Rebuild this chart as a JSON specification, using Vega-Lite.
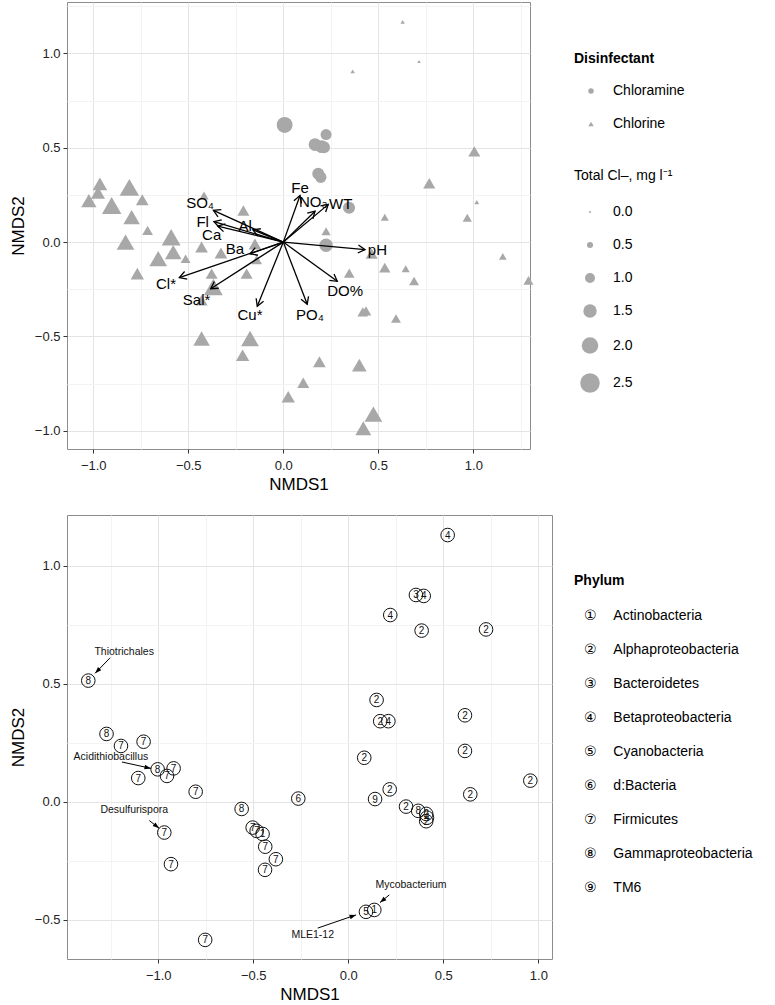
{
  "$schema": "https://vega.github.io/schema/vega-lite/v6.json",
  "padding": {"left": 8, "top": 1, "right": 0, "bottom": 0},
  "background": "white",
  "spacing": 21,
  "config": {
    "font": "Liberation Sans",
    "view": {"stroke": "#8C8C8C", "strokeWidth": 1},
    "axis": {
      "domain": false,
      "labelFontSize": 13,
      "labelColor": "#222",
      "labelFont": "Liberation Sans",
      "titleFont": "Liberation Sans",
      "titleFontSize": 17,
      "titleFontWeight": "normal",
      "titleColor": "#000",
      "tickColor": "#333",
      "tickSize": 4,
      "labelPadding": 3,
      "labelExpr": "abs(datum.value % 0.5) > 0.001 ? '' : format(datum.value, '.1f')",
      "gridColor": {"condition": {"test": "abs(datum.value % 0.5) > 0.001", "value": "#F3F3F3"}, "value": "#E4E4E4"},
      "tickOpacity": {"condition": {"test": "abs(datum.value % 0.5) > 0.001", "value": 0}, "value": 1}
    },
    "axisX": {"labelPadding": 6, "titlePadding": 4},
    "axisY": {"titlePadding": 7},
    "legend": {
      "labelFont": "Liberation Sans",
      "titleFont": "Liberation Sans",
      "labelFontSize": 14,
      "titleFontSize": 14,
      "labelColor": "#000",
      "titleColor": "#000",
      "labelLimit": 300,
      "padding": 0
    }
  },
  "vconcat": [
    {
      "width": 463,
      "height": 447,
      "encoding": {
        "x": {"field": "x", "type": "quantitative", "title": "NMDS1", "scale": {"domain": [-1.138, 1.298], "nice": false, "zero": false}, "axis": {"values": [-1, -0.75, -0.5, -0.25, 0, 0.25, 0.5, 0.75, 1, 1.25]}},
        "y": {"field": "y", "type": "quantitative", "title": "NMDS2", "scale": {"domain": [-1.097, 1.273], "nice": false, "zero": false}, "axis": {"values": [-1, -0.75, -0.5, -0.25, 0, 0.25, 0.5, 0.75, 1, 1.25]}}
      },
      "layer": [
        {
          "data": {"values": [
            {"x": -0.965, "y": 0.309, "disinfectant": "Chlorine", "cl": 1.7},
            {"x": -0.975, "y": 0.262, "disinfectant": "Chlorine", "cl": 1.6},
            {"x": -0.81, "y": 0.29, "disinfectant": "Chlorine", "cl": 2.5},
            {"x": -1.023, "y": 0.22, "disinfectant": "Chlorine", "cl": 1.8},
            {"x": -0.903, "y": 0.194, "disinfectant": "Chlorine", "cl": 2.5},
            {"x": -0.742, "y": 0.224, "disinfectant": "Chlorine", "cl": 1.4},
            {"x": -0.798, "y": 0.132, "disinfectant": "Chlorine", "cl": 2.0},
            {"x": -0.714, "y": 0.062, "disinfectant": "Chlorine", "cl": 1.1},
            {"x": -0.83, "y": 0.0, "disinfectant": "Chlorine", "cl": 2.2},
            {"x": -0.59, "y": 0.026, "disinfectant": "Chlorine", "cl": 2.4},
            {"x": -0.579, "y": -0.053, "disinfectant": "Chlorine", "cl": 2.0},
            {"x": -0.658, "y": -0.088, "disinfectant": "Chlorine", "cl": 2.2},
            {"x": -0.514, "y": -0.088, "disinfectant": "Chlorine", "cl": 1.0},
            {"x": -0.43, "y": -0.026, "disinfectant": "Chlorine", "cl": 1.4},
            {"x": -0.417, "y": 0.247, "disinfectant": "Chlorine", "cl": 0.9},
            {"x": -0.328, "y": -0.058, "disinfectant": "Chlorine", "cl": 1.4},
            {"x": -0.768, "y": -0.167, "disinfectant": "Chlorine", "cl": 1.5},
            {"x": -0.377, "y": -0.167, "disinfectant": "Chlorine", "cl": 1.3},
            {"x": -0.368, "y": -0.238, "disinfectant": "Chlorine", "cl": 2.4},
            {"x": -0.21, "y": 0.168, "disinfectant": "Chlorine", "cl": 1.3},
            {"x": -0.149, "y": -0.01, "disinfectant": "Chlorine", "cl": 1.4},
            {"x": -0.193, "y": -0.167, "disinfectant": "Chlorine", "cl": 1.3},
            {"x": -0.14, "y": -0.093, "disinfectant": "Chlorine", "cl": 1.1},
            {"x": -0.43, "y": -0.308, "disinfectant": "Chlorine", "cl": 1.3},
            {"x": -0.43, "y": -0.511, "disinfectant": "Chlorine", "cl": 2.0},
            {"x": -0.175, "y": -0.511, "disinfectant": "Chlorine", "cl": 2.2},
            {"x": -0.214, "y": -0.6, "disinfectant": "Chlorine", "cl": 1.5},
            {"x": 0.026, "y": -0.82, "disinfectant": "Chlorine", "cl": 1.5},
            {"x": 0.105, "y": -0.746, "disinfectant": "Chlorine", "cl": 1.3},
            {"x": 0.19, "y": -0.635, "disinfectant": "Chlorine", "cl": 1.4},
            {"x": 0.4, "y": -0.652, "disinfectant": "Chlorine", "cl": 1.7},
            {"x": 0.474, "y": -0.912, "disinfectant": "Chlorine", "cl": 2.2},
            {"x": 0.421, "y": -0.987, "disinfectant": "Chlorine", "cl": 1.9},
            {"x": 0.225, "y": 0.058, "disinfectant": "Chlorine", "cl": 0.9},
            {"x": 0.465, "y": -0.061, "disinfectant": "Chlorine", "cl": 1.3},
            {"x": 0.534, "y": -0.135, "disinfectant": "Chlorine", "cl": 1.2},
            {"x": 0.644, "y": -0.141, "disinfectant": "Chlorine", "cl": 0.75},
            {"x": 0.688, "y": -0.206, "disinfectant": "Chlorine", "cl": 1.0},
            {"x": 0.347, "y": -0.164, "disinfectant": "Chlorine", "cl": 1.1},
            {"x": 0.418, "y": -0.37, "disinfectant": "Chlorine", "cl": 1.1},
            {"x": 0.435, "y": -0.365, "disinfectant": "Chlorine", "cl": 1.1},
            {"x": 0.593, "y": -0.405, "disinfectant": "Chlorine", "cl": 1.0},
            {"x": 1.155, "y": -0.076, "disinfectant": "Chlorine", "cl": 0.7},
            {"x": 1.29, "y": -0.203, "disinfectant": "Chlorine", "cl": 1.0},
            {"x": 0.534, "y": 0.132, "disinfectant": "Chlorine", "cl": 0.75},
            {"x": 0.968, "y": 0.129, "disinfectant": "Chlorine", "cl": 0.9},
            {"x": 1.018, "y": 0.212, "disinfectant": "Chlorine", "cl": 0.35},
            {"x": 0.768, "y": 0.312, "disinfectant": "Chlorine", "cl": 1.3},
            {"x": 1.005, "y": 0.481, "disinfectant": "Chlorine", "cl": 1.3},
            {"x": 0.628, "y": 1.168, "disinfectant": "Chlorine", "cl": 0.3},
            {"x": 0.714, "y": 0.958, "disinfectant": "Chlorine", "cl": 0.2},
            {"x": 0.365, "y": 0.905, "disinfectant": "Chlorine", "cl": 0.3},
            {"x": 0.007, "y": 0.621, "disinfectant": "Chloramine", "cl": 1.9},
            {"x": 0.225, "y": 0.57, "disinfectant": "Chloramine", "cl": 1.15},
            {"x": 0.167, "y": 0.517, "disinfectant": "Chloramine", "cl": 1.4},
            {"x": 0.202, "y": 0.506, "disinfectant": "Chloramine", "cl": 1.4},
            {"x": 0.214, "y": 0.503, "disinfectant": "Chloramine", "cl": 1.3},
            {"x": 0.184, "y": 0.362, "disinfectant": "Chloramine", "cl": 1.3},
            {"x": 0.197, "y": 0.344, "disinfectant": "Chloramine", "cl": 1.2},
            {"x": 0.346, "y": 0.182, "disinfectant": "Chloramine", "cl": 1.3},
            {"x": 0.225, "y": -0.017, "disinfectant": "Chloramine", "cl": 1.5}
          ]},
          "mark": {"type": "point", "filled": true, "color": "#A8A8A8", "opacity": 1, "strokeWidth": 0},
          "encoding": {
            "shape": {"field": "disinfectant", "type": "nominal", "title": "Disinfectant",
              "scale": {"domain": ["Chloramine", "Chlorine"], "range": ["circle", "triangle-up"]},
              "legend": {"orient": "none", "legendX": 507, "legendY": 50, "symbolSize": 30, "symbolFillColor": "#A8A8A8", "symbolStrokeWidth": 0, "symbolOffset": 10, "labelOffset": 15, "titlePadding": 18, "rowPadding": 19, "titleFontWeight": "bold"}},
            "size": {"field": "cl", "type": "quantitative", "title": "Total Cl–, mg l⁻¹",
              "scale": {"type": "pow", "exponent": 1.5, "domain": [0, 2.5], "range": [4, 380]},
              "legend": {"orient": "none", "legendX": 507, "legendY": 167, "values": [0, 0.5, 1, 1.5, 2, 2.5], "format": ".1f", "symbolFillColor": "#A8A8A8", "symbolStrokeWidth": 0, "symbolType": "circle", "symbolOffset": 6, "labelOffset": 13, "titlePadding": 22, "rowPadding": 19, "titleFontWeight": "normal"}}
          }
        },
        {
          "data": {"name": "vectors", "values": [
            {"name": "SO₄", "x": -0.368, "y": 0.168},
            {"name": "Fl", "x": -0.365, "y": 0.108},
            {"name": "Ca", "x": -0.345, "y": 0.085},
            {"name": "Al", "x": -0.16, "y": 0.065},
            {"name": "Ba", "x": -0.175, "y": -0.062},
            {"name": "Cl*", "x": -0.547, "y": -0.188},
            {"name": "Sal*", "x": -0.382, "y": -0.247},
            {"name": "Cu*", "x": -0.137, "y": -0.34},
            {"name": "PO₄", "x": 0.126, "y": -0.33},
            {"name": "DO%", "x": 0.284, "y": -0.208},
            {"name": "pH", "x": 0.43, "y": -0.04},
            {"name": "Fe", "x": 0.088, "y": 0.247},
            {"name": "NO₃", "x": 0.167, "y": 0.164},
            {"name": "WT", "x": 0.237, "y": 0.2}
          ]},
          "mark": {"type": "rule", "color": "#000", "strokeWidth": 1.3},
          "encoding": {
            "x": {"datum": 0, "type": "quantitative", "title": "NMDS1"},
            "y": {"datum": 0, "type": "quantitative", "title": "NMDS2"},
            "x2": {"field": "x"},
            "y2": {"field": "y"}
          }
        },
        {
          "data": {"name": "vectors"},
          "transform": [{"calculate": "atan2(datum.x, datum.y) * 180 / PI", "as": "angle"}],
          "mark": {"type": "point", "shape": "M-0.5,0.87L0,0L0.5,0.87", "filled": false, "stroke": "#000", "strokeWidth": 1.3, "size": 256, "opacity": 1},
          "encoding": {
            "angle": {"field": "angle", "type": "quantitative", "scale": null}
          }
        },
        {
          "data": {"values": [
            {"name": "SO₄", "x": -0.438, "y": 0.206},
            {"name": "Fl", "x": -0.424, "y": 0.106},
            {"name": "Ca", "x": -0.377, "y": 0.035},
            {"name": "Al", "x": -0.2, "y": 0.088},
            {"name": "Ba", "x": -0.254, "y": -0.035},
            {"name": "Cl*", "x": -0.617, "y": -0.224},
            {"name": "Sal*", "x": -0.456, "y": -0.305},
            {"name": "Cu*", "x": -0.175, "y": -0.388},
            {"name": "PO₄", "x": 0.14, "y": -0.388},
            {"name": "DO%", "x": 0.325, "y": -0.259},
            {"name": "pH", "x": 0.495, "y": -0.04},
            {"name": "Fe", "x": 0.088, "y": 0.288},
            {"name": "NO₃", "x": 0.158, "y": 0.212},
            {"name": "WT", "x": 0.302, "y": 0.203}
          ]},
          "mark": {"type": "text", "fontSize": 15, "font": "Liberation Sans", "color": "#000", "align": "center", "baseline": "middle"},
          "encoding": {"text": {"field": "name"}}
        }
      ]
    },
    {
      "width": 485,
      "height": 444,
      "encoding": {
        "x": {"field": "x", "type": "quantitative", "title": "NMDS1", "scale": {"domain": [-1.48, 1.072], "nice": false, "zero": false}, "axis": {"values": [-1.25, -1, -0.75, -0.5, -0.25, 0, 0.25, 0.5, 0.75, 1]}},
        "y": {"field": "y", "type": "quantitative", "title": "NMDS2", "scale": {"domain": [-0.667, 1.215], "nice": false, "zero": false}, "axis": {"values": [-0.5, -0.25, 0, 0.25, 0.5, 0.75, 1]}}
      },
      "layer": [
        {
          "data": {"name": "otus", "values": [
            {"x": -1.368, "y": 0.513, "phylum": "Gammaproteobacteria", "code": "8"},
            {"x": -1.272, "y": 0.287, "phylum": "Gammaproteobacteria", "code": "8"},
            {"x": -1.196, "y": 0.236, "phylum": "Firmicutes", "code": "7"},
            {"x": -1.077, "y": 0.254, "phylum": "Firmicutes", "code": "7"},
            {"x": -1.003, "y": 0.137, "phylum": "Gammaproteobacteria", "code": "8"},
            {"x": -0.919, "y": 0.141, "phylum": "Firmicutes", "code": "7"},
            {"x": -0.954, "y": 0.109, "phylum": "Firmicutes", "code": "7"},
            {"x": -1.105, "y": 0.1, "phylum": "Firmicutes", "code": "7"},
            {"x": -0.803, "y": 0.042, "phylum": "Firmicutes", "code": "7"},
            {"x": -0.561, "y": -0.031, "phylum": "Gammaproteobacteria", "code": "8"},
            {"x": -0.263, "y": 0.013, "phylum": "d:Bacteria", "code": "6"},
            {"x": -0.968, "y": -0.131, "phylum": "Firmicutes", "code": "7"},
            {"x": -0.933, "y": -0.265, "phylum": "Firmicutes", "code": "7"},
            {"x": -0.503, "y": -0.11, "phylum": "Firmicutes", "code": "7"},
            {"x": -0.482, "y": -0.124, "phylum": "Firmicutes", "code": "7"},
            {"x": -0.451, "y": -0.137, "phylum": "Actinobacteria", "code": "1"},
            {"x": -0.437, "y": -0.191, "phylum": "Firmicutes", "code": "7"},
            {"x": -0.381, "y": -0.244, "phylum": "Firmicutes", "code": "7"},
            {"x": -0.438, "y": -0.289, "phylum": "Firmicutes", "code": "7"},
            {"x": -0.753, "y": -0.586, "phylum": "Firmicutes", "code": "7"},
            {"x": 0.093, "y": -0.467, "phylum": "Cyanobacteria", "code": "5"},
            {"x": 0.137, "y": -0.459, "phylum": "Actinobacteria", "code": "1"},
            {"x": 0.523, "y": 1.13, "phylum": "Betaproteobacteria", "code": "4"},
            {"x": 0.356, "y": 0.876, "phylum": "Bacteroidetes", "code": "3"},
            {"x": 0.397, "y": 0.872, "phylum": "Betaproteobacteria", "code": "4"},
            {"x": 0.221, "y": 0.791, "phylum": "Betaproteobacteria", "code": "4"},
            {"x": 0.386, "y": 0.725, "phylum": "Alphaproteobacteria", "code": "2"},
            {"x": 0.725, "y": 0.73, "phylum": "Alphaproteobacteria", "code": "2"},
            {"x": 0.149, "y": 0.431, "phylum": "Alphaproteobacteria", "code": "2"},
            {"x": 0.168, "y": 0.341, "phylum": "Alphaproteobacteria", "code": "2"},
            {"x": 0.211, "y": 0.341, "phylum": "Betaproteobacteria", "code": "4"},
            {"x": 0.614, "y": 0.366, "phylum": "Alphaproteobacteria", "code": "2"},
            {"x": 0.614, "y": 0.215, "phylum": "Alphaproteobacteria", "code": "2"},
            {"x": 0.084, "y": 0.186, "phylum": "Alphaproteobacteria", "code": "2"},
            {"x": 0.958, "y": 0.089, "phylum": "Alphaproteobacteria", "code": "2"},
            {"x": 0.218, "y": 0.052, "phylum": "Alphaproteobacteria", "code": "2"},
            {"x": 0.141, "y": 0.011, "phylum": "TM6", "code": "9"},
            {"x": 0.642, "y": 0.031, "phylum": "Alphaproteobacteria", "code": "2"},
            {"x": 0.304, "y": -0.021, "phylum": "Alphaproteobacteria", "code": "2"},
            {"x": 0.368, "y": -0.039, "phylum": "Gammaproteobacteria", "code": "8"},
            {"x": 0.41, "y": -0.052, "phylum": "Alphaproteobacteria", "code": "2"},
            {"x": 0.414, "y": -0.068, "phylum": "Betaproteobacteria", "code": "4"},
            {"x": 0.41, "y": -0.083, "phylum": "Alphaproteobacteria", "code": "2"}
          ]},
          "mark": {"type": "point", "shape": "circle", "filled": false, "strokeWidth": 1, "size": 185, "opacity": 1},
          "encoding": {
            "stroke": {"field": "phylum", "type": "nominal", "title": "Phylum",
              "scale": {"domain": ["Actinobacteria", "Alphaproteobacteria", "Bacteroidetes", "Betaproteobacteria", "Cyanobacteria", "d:Bacteria", "Firmicutes", "Gammaproteobacteria", "TM6"], "range": ["#111111"]},
              "legend": {"orient": "none", "legendX": 507, "legendY": 59, "symbolOpacity": 0, "symbolSize": 1, "labelOffset": -4, "titlePadding": 21, "rowPadding": 20, "titleFontWeight": "bold", "labelFont": "Liberation Sans, DejaVu Sans, Noto Sans CJK SC",
                "labelExpr": "({'Actinobacteria':'①','Alphaproteobacteria':'②','Bacteroidetes':'③','Betaproteobacteria':'④','Cyanobacteria':'⑤','d:Bacteria':'⑥','Firmicutes':'⑦','Gammaproteobacteria':'⑧','TM6':'⑨'})[datum.label] + '\u2003\u2009' + datum.label"}}
          }
        },
        {
          "data": {"name": "otus"},
          "mark": {"type": "text", "fontSize": 10, "font": "Liberation Sans", "color": "#111", "align": "center", "baseline": "middle", "dy": 0.5},
          "encoding": {"text": {"field": "code"}}
        },
        {
          "data": {"name": "ann", "values": [
            {"label": "Thiotrichales", "xs": -1.253, "ys": 0.61, "xe": -1.332, "ye": 0.544},
            {"label": "Acidithiobacillus", "xs": -1.191, "ys": 0.168, "xe": -1.038, "ye": 0.141},
            {"label": "Desulfurispora", "xs": -1.047, "ys": -0.08, "xe": -0.995, "ye": -0.113},
            {"label": "Mycobacterium", "xs": 0.216, "ys": -0.395, "xe": 0.167, "ye": -0.428},
            {"label": "MLE1-12", "xs": -0.161, "ys": -0.536, "xe": 0.041, "ye": -0.48}
          ]},
          "mark": {"type": "rule", "color": "#000", "strokeWidth": 1},
          "encoding": {
            "x": {"field": "xs", "type": "quantitative", "title": "NMDS1"},
            "y": {"field": "ys", "type": "quantitative", "title": "NMDS2"},
            "x2": {"field": "xe"},
            "y2": {"field": "ye"}
          }
        },
        {
          "data": {"name": "ann"},
          "transform": [{"calculate": "atan2((datum.xe - datum.xs) * 190, (datum.ye - datum.ys) * 236) * 180 / PI", "as": "angle"}],
          "mark": {"type": "point", "shape": "M0,0L-0.45,1.3L0.45,1.3Z", "filled": true, "color": "#000", "size": 100, "opacity": 1, "strokeWidth": 0},
          "encoding": {
            "x": {"field": "xe", "type": "quantitative", "title": "NMDS1"},
            "y": {"field": "ye", "type": "quantitative", "title": "NMDS2"},
            "angle": {"field": "angle", "type": "quantitative", "scale": null}
          }
        },
        {
          "data": {"values": [
            {"label": "Thiotrichales", "x": -1.179, "y": 0.633},
            {"label": "Acidithiobacillus", "x": -1.249, "y": 0.191},
            {"label": "Desulfurispora", "x": -1.126, "y": -0.035},
            {"label": "Mycobacterium", "x": 0.33, "y": -0.354},
            {"label": "MLE1-12", "x": -0.187, "y": -0.566}
          ]},
          "mark": {"type": "text", "fontSize": 10.5, "font": "Liberation Sans", "color": "#111", "align": "center", "baseline": "middle"},
          "encoding": {"text": {"field": "label"}}
        }
      ]
    }
  ],
  "resolve": {"scale": {"x": "independent", "y": "independent", "shape": "independent", "size": "independent", "stroke": "independent"}}
}
